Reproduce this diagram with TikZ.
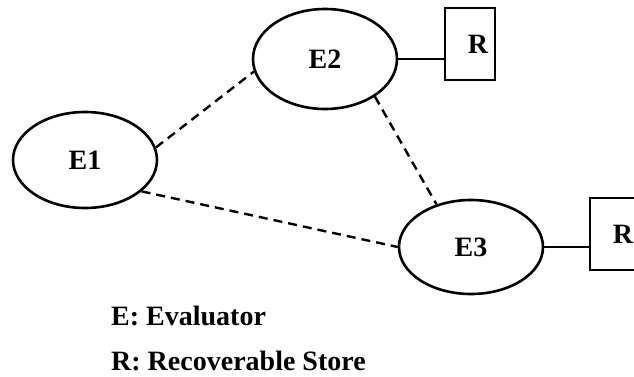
\documentclass[tikz,border=0pt]{standalone}
\usepackage{fontspec}
\setmainfont{Liberation Serif}
\usetikzlibrary{shapes.geometric}
\begin{document}
\begin{tikzpicture}[x=1pt,y=-1pt,
  every node/.style={font=\fontsize{28}{31}\selectfont\bfseries},
  evalnode/.style={ellipse,draw,line width=2.6pt,minimum width=144pt,minimum height=96pt,inner sep=0pt},
  storebox/.style={rectangle,draw,line width=2.4pt,minimum width=50pt,minimum height=72pt,inner xsep=0pt,text width=36pt,align=right},
  link/.style={line width=2.6pt},
  peer/.style={line width=2.4pt,dash pattern=on 9pt off 6pt}]
\useasboundingbox (0,0) rectangle (634,377);
\clip (0,0) rectangle (634,377);
\node[evalnode] (E1) at (85,160) {E1};
\node[evalnode,minimum height=100pt] (E2) at (325,59) {E2};
\node[evalnode,minimum height=94pt] (E3) at (471,247) {E3};
\node[storebox] (R2) at (470,44) {R};
\node[storebox] (R3) at (615,234) {R};
\draw[link] (E2.east) -- (E2.east -| R2.west);
\draw[link] (E3.east) -- (E3.east -| R3.west);
\draw[peer] (E1.10) -- (E2.190);
\draw[peer] (E2.323) -- (E3.129);
\draw[peer] (E1.331) -- (E3.180);
\node[anchor=base west,inner sep=0pt] (LE) at (111,325) {E: Evaluator};
\node[anchor=base west,inner sep=0pt] (LR) at (111,370) {R: Recoverable Store};
\end{tikzpicture}
\end{document}
